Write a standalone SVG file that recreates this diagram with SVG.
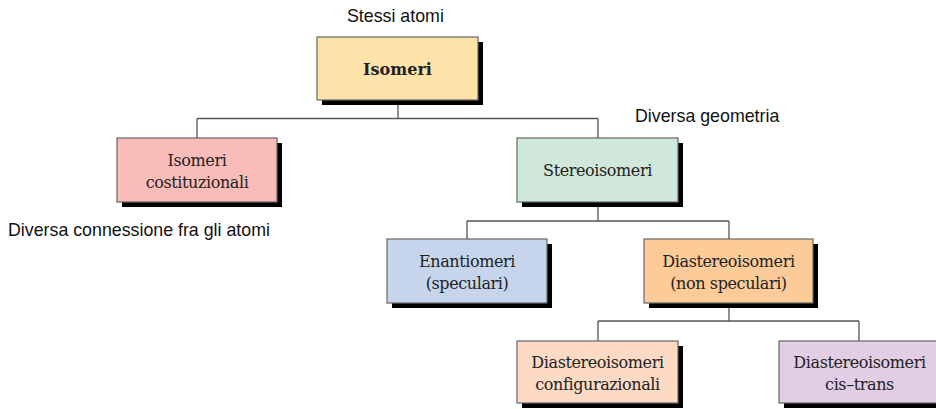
<svg xmlns="http://www.w3.org/2000/svg" width="936" height="409" viewBox="0 0 936 409">
<style>
.shadow{fill:#000}
.box{stroke:#666;stroke-width:1.2}
.t{font-family:"DejaVu Serif","Liberation Serif",serif;font-size:16px;letter-spacing:-0.4px;fill:#222;text-anchor:middle}
.b{font-weight:bold;letter-spacing:0}
.lbl{font-family:"Liberation Sans",Arial,sans-serif;font-size:17.8px;fill:#111}
.conn{fill:none;stroke:#555;stroke-width:1.3}
</style>
<rect width="936" height="409" fill="#fff"/>
<g id="connectors">
<path class="conn" d="M398 105V118.5M197 118.5H598M197 118.5V138M598 118.5V138"/>
<path class="conn" d="M598 207V221M467 221H729M467 221V239M729 221V239"/>
<path class="conn" d="M729 308V321M598 321H859M598 321V341M859 321V341"/>
</g>
<g id="isomeri">
<rect class="shadow" x="322" y="42" width="161" height="63"/>
<rect class="box" x="317" y="37" width="161" height="63" fill="#FDE3AA"/>
<text class="t b" x="397.5" y="75">Isomeri</text>
</g>
<g id="costituzionali">
<rect class="shadow" x="122" y="143" width="160" height="64"/>
<rect class="box" x="117" y="138" width="160" height="64" fill="#F9BCB8"/>
<text class="t" x="197" y="166">Isomeri</text>
<text class="t" x="197" y="188">costituzionali</text>
</g>
<g id="stereoisomeri">
<rect class="shadow" x="522" y="143" width="161" height="64"/>
<rect class="box" x="517" y="138" width="161" height="64" fill="#CFE8DA"/>
<text class="t" x="597.5" y="176">Stereoisomeri</text>
</g>
<g id="enantiomeri">
<rect class="shadow" x="392" y="244" width="160" height="64"/>
<rect class="box" x="387" y="239" width="160" height="64" fill="#C6D5EC"/>
<text class="t" x="467" y="267">Enantiomeri</text>
<text class="t" x="467" y="289">(speculari)</text>
</g>
<g id="diastereoisomeri">
<rect class="shadow" x="649" y="244" width="169" height="64"/>
<rect class="box" x="644" y="239" width="169" height="64" fill="#FCCB98"/>
<text class="t" x="728.5" y="267">Diastereoisomeri</text>
<text class="t" x="728.5" y="289">(non speculari)</text>
</g>
<g id="configurazionali">
<rect class="shadow" x="522" y="346" width="161" height="62"/>
<rect class="box" x="517" y="341" width="161" height="62" fill="#FCDAC4"/>
<text class="t" x="597.5" y="368">Diastereoisomeri</text>
<text class="t" x="597.5" y="390">configurazionali</text>
</g>
<g id="cistrans">
<rect class="shadow" x="784" y="346" width="161" height="62"/>
<rect class="box" x="779" y="341" width="161" height="62" fill="#E1CDE4"/>
<text class="t" x="859.5" y="368">Diastereoisomeri</text>
<text class="t" x="859.5" y="390">cis–trans</text>
</g>
<g id="labels">
<text class="lbl" x="347" y="22">Stessi atomi</text>
<text class="lbl" x="635" y="122">Diversa geometria</text>
<text class="lbl" x="8" y="236">Diversa connessione fra gli atomi</text>
</g>
</svg>
